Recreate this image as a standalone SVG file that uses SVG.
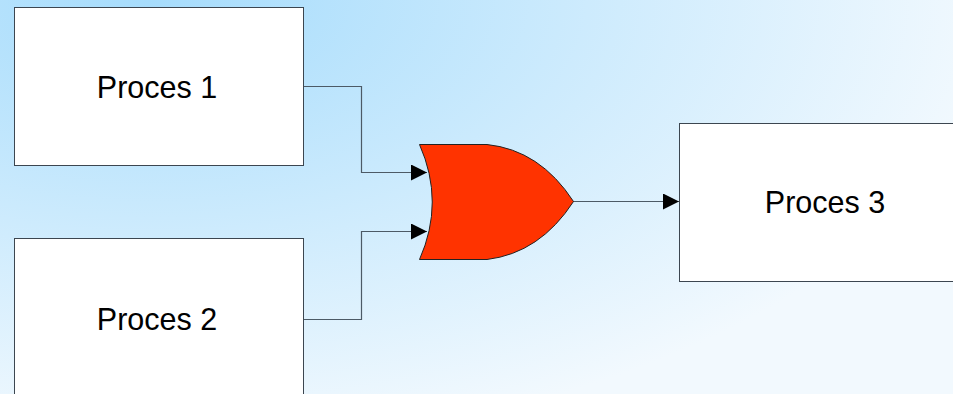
<svg xmlns="http://www.w3.org/2000/svg" width="953" height="394" viewBox="0 0 953 394">
  <defs>
    <radialGradient id="bg" gradientUnits="userSpaceOnUse" cx="0" cy="0" r="1" gradientTransform="translate(150 0) scale(850 450)">
      <stop offset="0" stop-color="#a6dcfc"/>
      <stop offset="1" stop-color="#f2f9fe"/>
    </radialGradient>
    <marker id="arrow" viewBox="0 0 16 16" refX="16" refY="8" markerWidth="16" markerHeight="16" markerUnits="userSpaceOnUse" orient="auto">
      <path d="M0,0 L16,8 L0,16 Z" fill="#000"/>
    </marker>
    <style>
      .box { fill: #ffffff; stroke: #3c4650; stroke-width: 1; }
      .label { font-family: "Liberation Sans", Arial, sans-serif; font-size: 30.5px; fill: #000; text-anchor: middle; }
      .wire { fill: none; stroke: #4c5a66; stroke-width: 1.2; }
      .gate { fill: #ff3300; stroke: #222; stroke-width: 1; }
    </style>
  </defs>

  <rect width="953" height="394" fill="url(#bg)"/>

  <g id="connectors">
    <path class="wire" d="M303.5,86.5 H361.5 V172.5 H427" marker-end="url(#arrow)"/>
    <path class="wire" d="M303.5,319.5 H361.5 V231.5 H427" marker-end="url(#arrow)"/>
    <path class="wire" d="M573,201.5 H679" marker-end="url(#arrow)"/>
  </g>

  <g id="proces1">
    <rect class="box" x="14.5" y="7.5" width="289" height="158"/>
    <text class="label" x="157" y="98">Proces 1</text>
  </g>

  <g id="proces2">
    <rect class="box" x="14.5" y="238.5" width="289" height="160"/>
    <text class="label" x="157" y="330">Proces 2</text>
  </g>

  <g id="proces3">
    <rect class="box" x="679.5" y="123.5" width="292" height="158"/>
    <text class="label" x="825" y="213">Proces 3</text>
  </g>

  <g id="or-gate">
    <path class="gate" d="M419.5,144.5 L487,144.5 Q540,150 573.5,201.5 Q540,253 487,259.5 L419.5,259.5 Q445,202 419.5,144.5 Z"/>
  </g>
</svg>
